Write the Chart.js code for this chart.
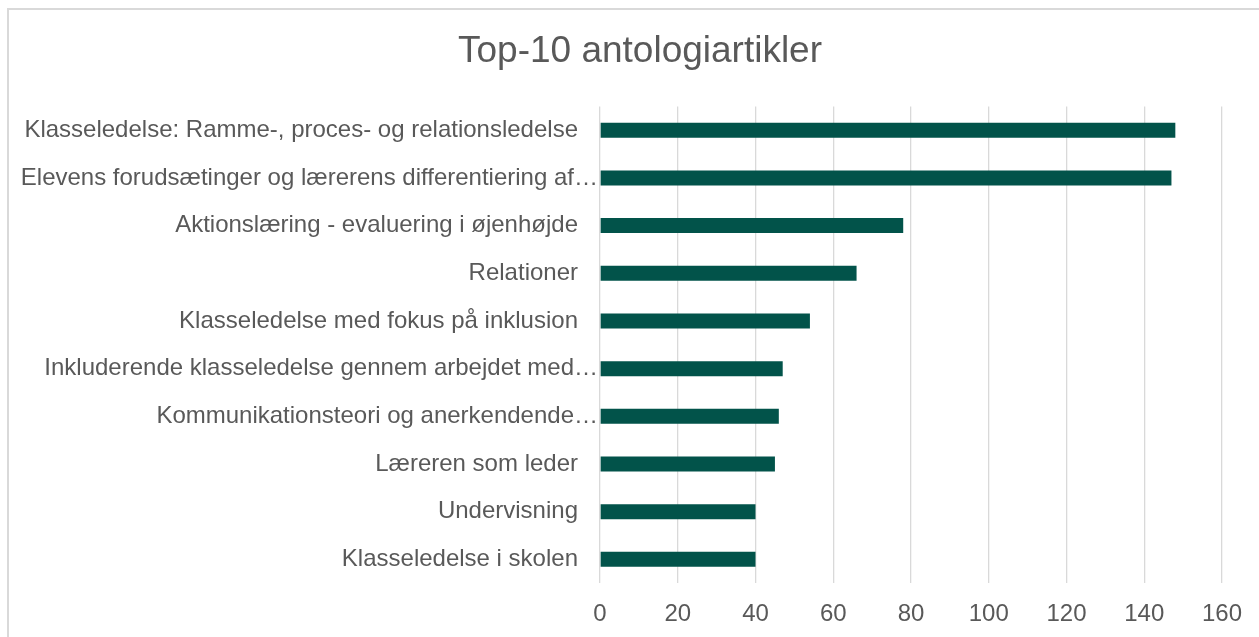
<!DOCTYPE html>
<html>
<head>
<meta charset="utf-8">
<script src="https://cdn.jsdelivr.net/npm/chart.js@4"></script>
<style>
  html, body { margin: 0; padding: 0; background: #ffffff; overflow: hidden; }
  #frame { position: absolute; left: 7px; top: 8px; width: 1400px; height: 800px; border: 2px solid #d9d9d9; box-sizing: border-box; }
  #wrap { position: absolute; left: 0; top: 0; width: 1259px; height: 637px; }
</style>
</head>
<body>
<div id="frame"></div>
<div id="wrap"><canvas id="c" width="1259" height="637"></canvas></div>
<script>
const chartTitle = "Top-10 antologiartikler";
const categories = [
  "Klasseledelse: Ramme-, proces- og relationsledelse",
  "Elevens forudsætinger og lærerens differentiering af…",
  "Aktionslæring - evaluering i øjenhøjde",
  "Relationer",
  "Klasseledelse med fokus på inklusion",
  "Inkluderende klasseledelse gennem arbejdet med…",
  "Kommunikationsteori og anerkendende…",
  "Læreren som leder",
  "Undervisning",
  "Klasseledelse i skolen"
];
const values = [148, 147, 78, 66, 54, 47, 46, 45, 40, 40];
const xMin = 0, xMax = 160, xStep = 20;

const textColor = "#595959";
const fontFamily = "'Liberation Sans', Arial, sans-serif";

// centre the title over the whole chart frame (as in the original), not just the layout box
const centerTitle = {
  id: "centerTitle",
  afterLayout(chart) {
    const t = chart.titleBlock;
    if (t) { t.left = 21; t.right = 1259; t.width = t.right - t.left; }
  }
};

new Chart(document.getElementById("c"), {
  type: "bar",
  data: {
    labels: categories,
    datasets: [{
      data: values,
      backgroundColor: "#02534A",
      borderWidth: 0,
      categoryPercentage: 1.0,
      barPercentage: 0.315
    }]
  },
  plugins: [centerTitle],
  options: {
    indexAxis: "y",
    responsive: false,
    animation: false,
    devicePixelRatio: 1,
    layout: { padding: { left: 0, right: 37, top: 0, bottom: -9 } },
    plugins: {
      legend: { display: false },
      tooltip: { enabled: false },
      title: {
        display: true,
        text: chartTitle,
        color: textColor,
        font: { family: fontFamily, size: 37, weight: "normal", lineHeight: 1.2 },
        padding: { top: 30, bottom: 32 }
      }
    },
    scales: {
      x: {
        type: "linear",
        min: xMin,
        max: xMax,
        ticks: {
          stepSize: xStep,
          color: textColor,
          font: { family: fontFamily, size: 24 },
          padding: 17
        },
        grid: { color: "#d9d9d9", lineWidth: 1.3, drawTicks: false },
        border: { display: false }
      },
      y: {
        type: "category",
        grid: { display: false, drawTicks: false },
        border: { display: false },
        ticks: {
          color: textColor,
          font: { family: fontFamily, size: 24 },
          padding: 2,
          autoSkip: false,
          callback: function (value) {
            const s = this.getLabelForValue(value);
            return s.endsWith("…") ? s : s + "   ";
          }
        },
        afterFit: function (scale) { scale.width = 600; }
      }
    }
  }
});
</script>
</body>
</html>
